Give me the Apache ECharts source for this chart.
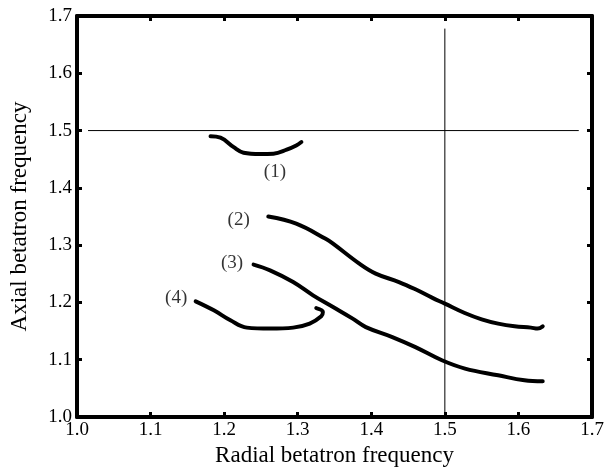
<!DOCTYPE html>
<html><head><meta charset="utf-8">
<script src="https://cdn.jsdelivr.net/npm/echarts@6/dist/echarts.min.js"></script>
<style>html,body{margin:0;padding:0;background:#fff}#c{width:608px;height:475px}</style>
</head><body><div id="c"></div>
<script>
var xTicks = [1.0,1.1,1.2,1.3,1.4,1.5,1.6,1.7];
var yTicks = [1.0,1.1,1.2,1.3,1.4,1.5,1.6,1.7];
var curve1 = [[1.1815,1.490],[1.195,1.4876],[1.213,1.471],[1.2264,1.4614],[1.249,1.459],[1.267,1.4597],[1.285,1.4667],[1.298,1.474],[1.305,1.480]];
var curve2 = [[1.260,1.350],[1.298,1.3375],[1.338,1.311],[1.348,1.3026],[1.3837,1.2677],[1.406,1.2503],[1.4376,1.2356],[1.460,1.2229],[1.4825,1.2084],[1.500,1.1979],[1.527,1.1815],[1.550,1.1705],[1.5724,1.163],[1.5948,1.1583],[1.617,1.156],[1.626,1.1543],[1.633,1.1583]];
var curve3 = [[1.240,1.266],[1.2624,1.256],[1.2938,1.2356],[1.3208,1.2124],[1.348,1.192],[1.3747,1.1717],[1.3926,1.157],[1.4286,1.1396],[1.460,1.122],[1.496,1.099],[1.5274,1.0845],[1.5724,1.0728],[1.6082,1.064],[1.633,1.0623]];
var curve4 = [[1.1613,1.2019],[1.186,1.1862],[1.2085,1.1688],[1.2309,1.156],[1.2624,1.1543],[1.2938,1.156],[1.3163,1.163],[1.332,1.1757],[1.3342,1.1832],[1.3252,1.190]];
var hLine = [[1.015,1.5],[1.682,1.5]];
var vLine = [[1.5,1.0],[1.5,1.678]];
var curveLabels = [[1.269,1.4276,'(1)'],[1.2197,1.343,'(2)'],[1.2107,1.2688,'(3)'],[1.1348,1.207,'(4)']];

var serif = 'Liberation Serif';
var chart = echarts.init(document.getElementById('c'));
function fmt(v){return Number(v).toFixed(1);}
var axisLineS = {show:true, lineStyle:{color:'#000', width:4}};
var tickS = {show:true, inside:true, length:5, lineStyle:{color:'#000', width:3}};
function curveSeries(d){
  return {type:'line', data:d, smooth:0.4, symbol:'none', xAxisIndex:0, yAxisIndex:0,
    lineStyle:{color:'#000', width:4, cap:'round', join:'round'}, z:3};
}
function refSeries(d){
  return {type:'line', data:d, symbol:'none', xAxisIndex:0, yAxisIndex:0,
    lineStyle:{color:'#000', width:1}, z:2};
}
chart.setOption({
  animation:false,
  backgroundColor:'#fff',
  grid:{left:72, right:16, top:16, bottom:58, containLabel:false},
  xAxis:[
    {type:'value', min:1.0, max:1.7, interval:0.1, position:'bottom',
     name:'Radial betatron frequency', nameLocation:'middle', nameGap:26,
     nameTextStyle:{fontFamily:serif, fontSize:23, color:'#000'},
     axisLine:axisLineS, axisTick:tickS, splitLine:{show:false},
     axisLabel:{formatter:fmt, fontFamily:serif, fontSize:19, color:'#000', margin:4}},
    {type:'value', min:1.0, max:1.7, interval:0.1, position:'top',
     axisLine:axisLineS, axisTick:tickS, splitLine:{show:false}, axisLabel:{show:false}}
  ],
  yAxis:[
    {type:'value', min:1.0, max:1.7, interval:0.1, position:'left',
     name:'Axial betatron frequency', nameLocation:'middle', nameGap:46,
     nameTextStyle:{fontFamily:serif, fontSize:23, color:'#000'},
     axisLine:axisLineS, axisTick:tickS, splitLine:{show:false},
     axisLabel:{formatter:fmt, fontFamily:serif, fontSize:19, color:'#000', margin:5}},
    {type:'value', min:1.0, max:1.7, interval:0.1, position:'right',
     axisLine:axisLineS, axisTick:tickS, splitLine:{show:false}, axisLabel:{show:false}}
  ],
  series:[
    refSeries(hLine), refSeries(vLine),
    curveSeries(curve1), curveSeries(curve2), curveSeries(curve3), curveSeries(curve4),
    {type:'scatter', xAxisIndex:0, yAxisIndex:0, symbolSize:0,
     data:curveLabels.map(function(a){return {value:[a[0],a[1]], name:a[2]};}),
     label:{show:true, position:'inside', formatter:function(p){return p.name;},
       fontFamily:serif, fontSize:19, color:'#000'}, z:4}
  ]
});
</script></body></html>
